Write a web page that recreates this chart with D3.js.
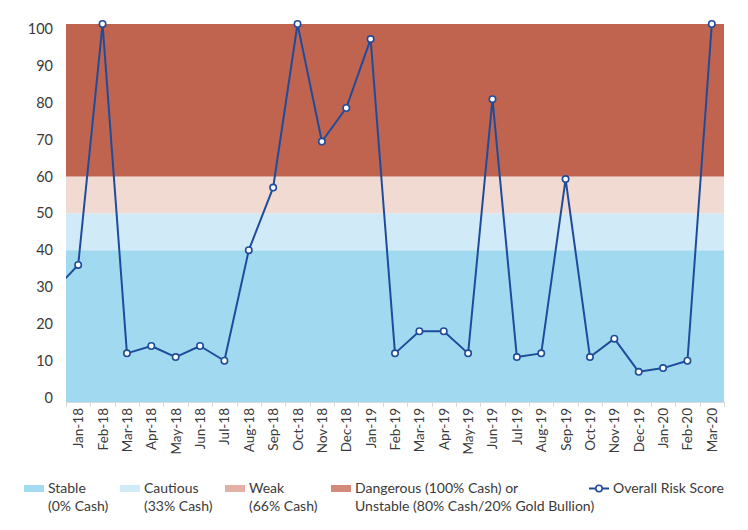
<!DOCTYPE html>
<html>
<head>
<meta charset="utf-8">
<script src="https://cdn.jsdelivr.net/npm/d3@7"></script>
<style>
  html, body { margin: 0; padding: 0; background: #fff; }
  svg { display: block; font-family: Lato, "Liberation Sans", sans-serif; }
</style>
</head>
<body>
<svg id="chart" width="748" height="530"></svg>
<script>
// ---- data ----
const months = ["Jan-18","Feb-18","Mar-18","Apr-18","May-18","Jun-18","Jul-18","Aug-18","Sep-18","Oct-18","Nov-18","Dec-18",
                "Jan-19","Feb-19","Mar-19","Apr-19","May-19","Jun-19","Jul-19","Aug-19","Sep-19","Oct-19","Nov-19","Dec-19",
                "Jan-20","Feb-20","Mar-20"];
const riskScore = [36, 101.4, 12, 14, 11, 14, 10, 40, 57, 101.4, 69.5, 78.6,
                   97.3, 12, 18, 18, 12, 81, 11, 12, 59.3, 11, 16, 7,
                   8, 10, 101.4];
const priorMonthScore = 29;   // Dec-17, clipped at left edge
const yTicks = [0, 10, 20, 30, 40, 50, 60, 70, 80, 90, 100];
const zoneNames = ["Stable", "Cautious", "Weak", "Dangerous"];
const zoneBounds = [[-1.2, 40], [40, 50], [50, 60], [60, 101.4]];
const zoneColors = ["#a1daf0", "#d0eaf7", "#f0dad1", "#c0634f"];
const legendSwatchColors = ["#a3dbf1", "#d1ebf7", "#e2b0a5", "#d38a7b"];
const legendLabels = [["Stable", "(0% Cash)"], ["Cautious", "(33% Cash)"], ["Weak", "(66% Cash)"],
                      ["Dangerous (100% Cash) or", "Unstable (80% Cash/20% Gold Bullion)"]];
const lineLabel = "Overall Risk Score";

(function () {
// ---- layout ----
const svg = d3.select("#chart");
const pLeft = 66, pRight = 724, pTop = 24, pBottom = 402;
const textColor = "#3a3a3a";

const x = d3.scaleBand().domain(months).range([pLeft, pRight]).padding(0);
const y = d3.scaleLinear().domain([-1.2, 101.4]).range([pBottom, pTop]);
const cx = m => x(m) + x.bandwidth() / 2;

// clip
svg.append("defs").append("clipPath").attr("id", "plotclip")
  .append("rect").attr("x", pLeft).attr("y", pTop - 6).attr("width", pRight - pLeft).attr("height", pBottom - pTop + 12);

// zones
svg.append("g").selectAll("rect").data(zoneBounds).join("rect")
  .attr("x", pLeft).attr("width", pRight - pLeft)
  .attr("y", d => y(d[1])).attr("height", d => y(d[0]) - y(d[1]))
  .attr("fill", (d, i) => zoneColors[i]);

// x axis ticks
const xAxisG = svg.append("g").attr("transform", `translate(0,${pBottom})`);
xAxisG.append("line").attr("x1", pLeft).attr("x2", pRight).attr("y1", 0.5).attr("y2", 0.5)
  .attr("stroke", "#d9d9d9").attr("stroke-width", 1);
const boundaries = months.map(m => x(m)).concat([pRight]);
xAxisG.selectAll("line.tick").data(boundaries).join("line").attr("class", "tick")
  .attr("x1", d => Math.round(d) + 0.5).attr("x2", d => Math.round(d) + 0.5)
  .attr("y1", 0).attr("y2", 5).attr("stroke", "#d9d9d9");
xAxisG.selectAll("text").data(months).join("text")
  .attr("transform", d => `translate(${cx(d) + 5},6) rotate(-90)`)
  .attr("text-anchor", "end")
  .attr("font-size", 13.5)
  .attr("fill", textColor)
  .text(d => d);

// y axis labels
svg.append("g").selectAll("text").data(yTicks).join("text")
  .attr("x", 53).attr("y", d => y(d)).attr("dy", "0.35em")
  .attr("text-anchor", "end").attr("font-size", 14.5).attr("fill", textColor)
  .text(d => d);

// line
const pts = [{ x: cx(months[0]) - x.step(), v: priorMonthScore }]
  .concat(months.map((m, i) => ({ x: cx(m), v: riskScore[i] })));
const lineGen = d3.line().x(d => d.x).y(d => y(d.v));
const plotG = svg.append("g").attr("clip-path", "url(#plotclip)");
plotG.append("path").datum(pts).attr("d", lineGen)
  .attr("fill", "none").attr("stroke", "#1f4c9a").attr("stroke-width", 2).attr("stroke-linejoin", "round");
svg.append("g").selectAll("circle").data(months).join("circle")
  .attr("cx", d => cx(d)).attr("cy", (d, i) => y(riskScore[i])).attr("r", 3.2)
  .attr("fill", "#fff").attr("stroke", "#1f4c9a").attr("stroke-width", 1.6);

// legend
const legendX = [24, 120, 225, 331];
const lg = svg.append("g");
legendX.forEach((lx, i) => {
  lg.append("rect").attr("x", lx).attr("y", 485).attr("width", 20).attr("height", 7).attr("fill", legendSwatchColors[i]);
  legendLabels[i].forEach((t, j) => {
    lg.append("text").attr("x", lx + 24).attr("y", 493 + j * 18).attr("font-size", 14).attr("fill", textColor).text(t);
  });
});
lg.append("line").attr("x1", 589).attr("x2", 609).attr("y1", 488.5).attr("y2", 488.5)
  .attr("stroke", "#1f4c9a").attr("stroke-width", 2);
lg.append("circle").attr("cx", 599).attr("cy", 488.5).attr("r", 3.2)
  .attr("fill", "#fff").attr("stroke", "#1f4c9a").attr("stroke-width", 1.6);
lg.append("text").attr("x", 613).attr("y", 493).attr("font-size", 14).attr("fill", textColor).text(lineLabel);
})();
</script>
</body>
</html>
